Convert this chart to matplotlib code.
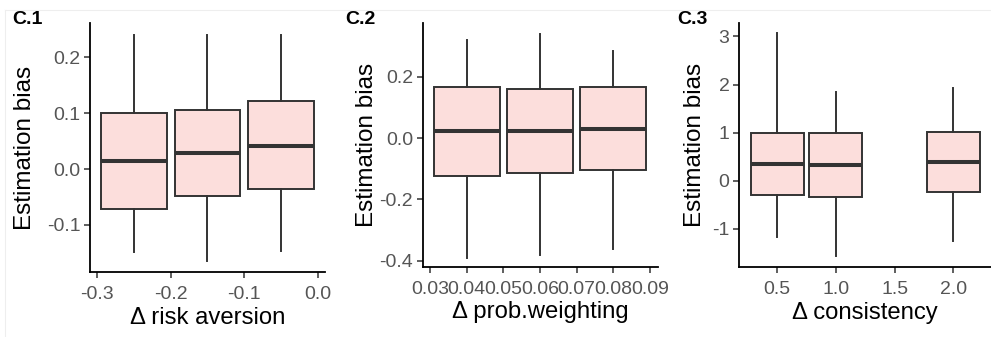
import matplotlib
matplotlib.use("Agg")
import matplotlib.pyplot as plt
from matplotlib.transforms import blended_transform_factory
import numpy as np

plt.rcParams['font.family'] = ['Liberation Sans', 'DejaVu Sans']

# values (whisker low, Q1, median, Q3, whisker high)
risk_x = [-0.25, -0.15, -0.05]
risk_lo = [-0.148, -0.164, -0.146]
risk_q1 = [-0.072, -0.049, -0.036]
risk_med = [0.014, 0.028, 0.042]
risk_q3 = [0.100, 0.105, 0.122]
risk_hi = [0.240, 0.240, 0.240]
risk_ticks = [-0.3, -0.2, -0.1, 0.0]
risk_labels = ["-0.3", "-0.2", "-0.1", "0.0"]
risk_yticks = [-0.1, 0.0, 0.1, 0.2]
risk_ylabels = ["-0.1", "0.0", "0.1", "0.2"]

prob_x = [0.04, 0.06, 0.08]
prob_lo = [-0.39, -0.38, -0.36]
prob_q1 = [-0.122, -0.114, -0.105]
prob_med = [0.022, 0.024, 0.031]
prob_q3 = [0.167, 0.161, 0.167]
prob_hi = [0.320, 0.340, 0.284]
prob_ticks = [0.03, 0.04, 0.05, 0.06, 0.07, 0.08, 0.09]
prob_labels = ["0.03", "0.04", "0.05", "0.06", "0.07", "0.08", "0.09"]
prob_yticks = [-0.4, -0.2, 0.0, 0.2]
prob_ylabels = ["-0.4", "-0.2", "0.0", "0.2"]

cons_x = [0.5, 1.0, 2.0]
cons_lo = [-1.17, -1.57, -1.24]
cons_q1 = [-0.30, -0.33, -0.24]
cons_med = [0.35, 0.34, 0.39]
cons_q3 = [0.99, 0.99, 1.01]
cons_hi = [3.07, 1.84, 1.93]
cons_ticks = [0.5, 1.0, 1.5, 2.0]
cons_labels = ["0.5", "1.0", "1.5", "2.0"]
cons_yticks = [-1, 0, 1, 2, 3]
cons_ylabels = ["-1", "0", "1", "2", "3"]

fill = "#FCDEDC"
edge = "#333333"
tick_col = "#555555"

fig = plt.figure(figsize=(9.91, 3.37), dpi=100)

def panel(rect, xs, lo, q1, med, q3, hi, width, xlim, ylim,
          xt, xtl, yt, ytl, xlabel, tag, tag_x, ylab_x, xlab_y):
    ax = fig.add_axes(rect)
    stats = []
    for i in range(len(xs)):
        stats.append(dict(whislo=lo[i], q1=q1[i], med=med[i], q3=q3[i],
                          whishi=hi[i], fliers=[]))
    ax.bxp(stats, positions=xs, widths=width, patch_artist=True,
           showcaps=False, manage_ticks=False,
           boxprops=dict(facecolor=fill, edgecolor=edge, linewidth=1.4),
           medianprops=dict(color=edge, linewidth=2.9, solid_capstyle='butt'),
           whiskerprops=dict(color=edge, linewidth=1.4))
    ax.set_xlim(*xlim)
    ax.set_ylim(*ylim)
    ax.set_xticks(xt)
    ax.set_xticklabels(xtl)
    ax.set_yticks(yt)
    ax.set_yticklabels(ytl)
    for s in ["top", "right"]:
        ax.spines[s].set_visible(False)
    for s in ["left", "bottom"]:
        ax.spines[s].set_linewidth(1.3)
        ax.spines[s].set_color("black")
    ax.tick_params(length=4, width=1.1, color="#333333", labelcolor=tick_col,
                   labelsize=14)
    ax.tick_params(axis="x", pad=6)
    ax.tick_params(axis="y", pad=3)
    ax.set_ylabel("Estimation bias", fontsize=17.5)
    ax.yaxis.set_label_coords(ylab_x, 0.5,
                              transform=blended_transform_factory(fig.transFigure, ax.transAxes))
    ax.set_xlabel("Δ " + xlabel, fontsize=17.2)
    ax.xaxis.set_label_coords(0.5, xlab_y,
                              transform=blended_transform_factory(ax.transAxes, fig.transFigure))
    ax.xaxis.label.set_verticalalignment("center")
    ax.yaxis.label.set_verticalalignment("center")
    ax.patch.set_alpha(0)
    fig.text(tag_x, 1 - 24 / 337, tag, fontsize=14, fontweight="bold",
             ha="left", va="baseline")
    return ax

panel([0.0908, 0.1929, 0.2371, 0.7389], risk_x, risk_lo, risk_q1, risk_med,
      risk_q3, risk_hi, 0.089, (-0.3095, 0.0095), (-0.184, 0.261),
      risk_ticks, risk_labels, risk_yticks, risk_ylabels,
      "risk aversion", "C.1", 12 / 991, 25 / 991, 1 - 318 / 337)

panel([0.4265, 0.2077, 0.2371, 0.724], prob_x, prob_lo, prob_q1, prob_med,
      prob_q3, prob_hi, 0.018, (0.028, 0.0921), (-0.42, 0.375),
      prob_ticks, prob_labels, prob_yticks, prob_ylabels,
      "prob.weighting", "C.2", 345 / 991, 367 / 991, 1 - 312 / 337)

panel([0.746, 0.2077, 0.2543, 0.724], cons_x, cons_lo, cons_q1, cons_med,
      cons_q3, cons_hi, 0.45, (0.1775, 2.3225), (-1.79, 3.28),
      cons_ticks, cons_labels, cons_yticks, cons_ylabels,
      "consistency", "C.3", 677 / 991, 695 / 991, 1 - 313 / 337)

# faint frame lines at the top and left of the image
fig.add_artist(plt.Line2D([5 / 991, 1], [1 - 10 / 337, 1 - 10 / 337],
                          color="#EEEEEE", linewidth=0.8))
fig.add_artist(plt.Line2D([5 / 991, 5 / 991], [0, 1 - 10 / 337],
                          color="#EEEEEE", linewidth=0.8))

fig.savefig("out.png", dpi=100)
